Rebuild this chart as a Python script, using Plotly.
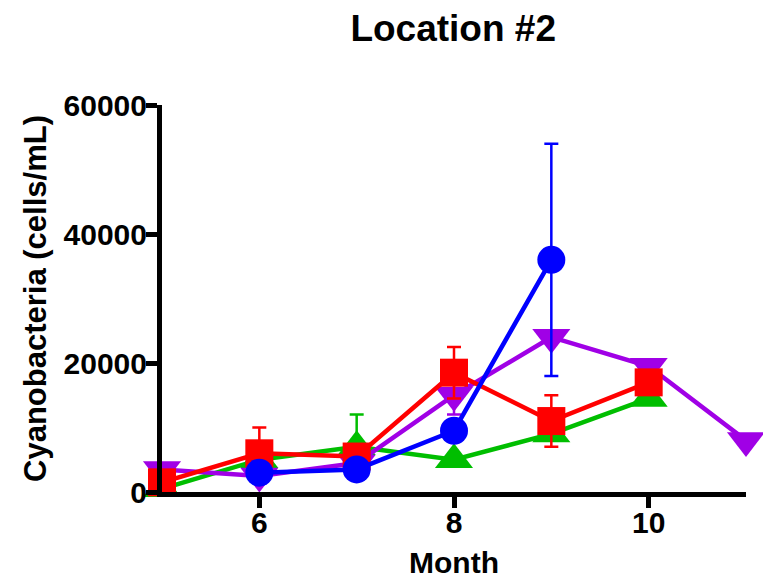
import plotly.graph_objects as go

months_green = [5, 6, 7, 8, 9, 10]
green_vals = [500, 5000, 7000, 5000, 9000, 14500]
green_err = [0, 0, 5000, 0, 0, 0]

months_purple = [5, 6, 7, 8, 9, 10, 11]
purple_vals = [3500, 2500, 4500, 15000, 24000, 19500, 8000]
purple_err = [0, 0, 0, 3000, 0, 0, 0]

months_red = [5, 6, 7, 8, 9, 10]
red_vals = [1500, 6000, 5500, 18500, 11000, 17000]
red_err = [0, 4000, 0, 4000, 4000, 0]

months_blue = [6, 7, 8, 9]
blue_vals = [3000, 3500, 9500, 36000]
blue_err = [0, 0, 0, 18000]

x_ticks = [6, 8, 10]
y_ticks = [0, 20000, 40000, 60000]

FONT = "Liberation Sans, Arial, sans-serif"

series = [
    (months_green, green_vals, green_err, "rgb(0,190,0)", "triangle-up", 33),
    (months_purple, purple_vals, purple_err, "rgb(160,0,230)", "triangle-down", 33),
    (months_red, red_vals, red_err, "rgb(255,0,0)", "square", 28),
    (months_blue, blue_vals, blue_err, "rgb(0,0,255)", "circle", 28),
]

fig = go.Figure()
for xs, ys, es, col, sym, sz in series:
    fig.add_trace(go.Scatter(
        x=xs, y=ys, mode="lines+markers",
        line=dict(color=col, width=4.5),
        marker=dict(symbol=sym, size=sz, color=col),
        error_y=dict(type="data", array=es, visible=True, color=col,
                     thickness=2.5, width=7),
        cliponaxis=False, showlegend=False,
    ))

fig.update_layout(
    width=763, height=579,
    margin=dict(l=162, r=17, t=105, b=87),
    paper_bgcolor="white", plot_bgcolor="white",
    font=dict(family=FONT, color="black"),
    title=dict(text="<b>Location #2</b>", x=0.594, xanchor="center",
               y=0.952, yanchor="middle", font=dict(size=37, family=FONT)),
)
fig.update_xaxes(
    range=[5, 11], tickvals=x_ticks, ticktext=["<b>%d</b>" % v for v in x_ticks],
    showgrid=False, zeroline=False, showline=True, linecolor="black", linewidth=5,
    ticks="outside", ticklen=11, tickwidth=5, tickcolor="black",
    tickfont=dict(size=30, family=FONT), automargin=False, ticklabelstandoff=-11,
    title=dict(text="<b>Month</b>", font=dict(size=30, family=FONT), standoff=17),
)
fig.update_yaxes(
    range=[0, 60000], tickvals=y_ticks, ticktext=["<b>%d</b>" % v for v in y_ticks],
    showgrid=False, zeroline=False, showline=True, linecolor="black", linewidth=5,
    ticks="outside", ticklen=11, tickwidth=5, tickcolor="black",
    tickfont=dict(size=30, family=FONT), automargin=False, ticklabelstandoff=-7,
    title=dict(text="<b>Cyanobacteria (cells/mL)</b>", font=dict(size=31, family=FONT), standoff=9),
)

fig.write_html("out.html", post_script="document.body.style.margin='0px';",
               config={"displayModeBar": False})
